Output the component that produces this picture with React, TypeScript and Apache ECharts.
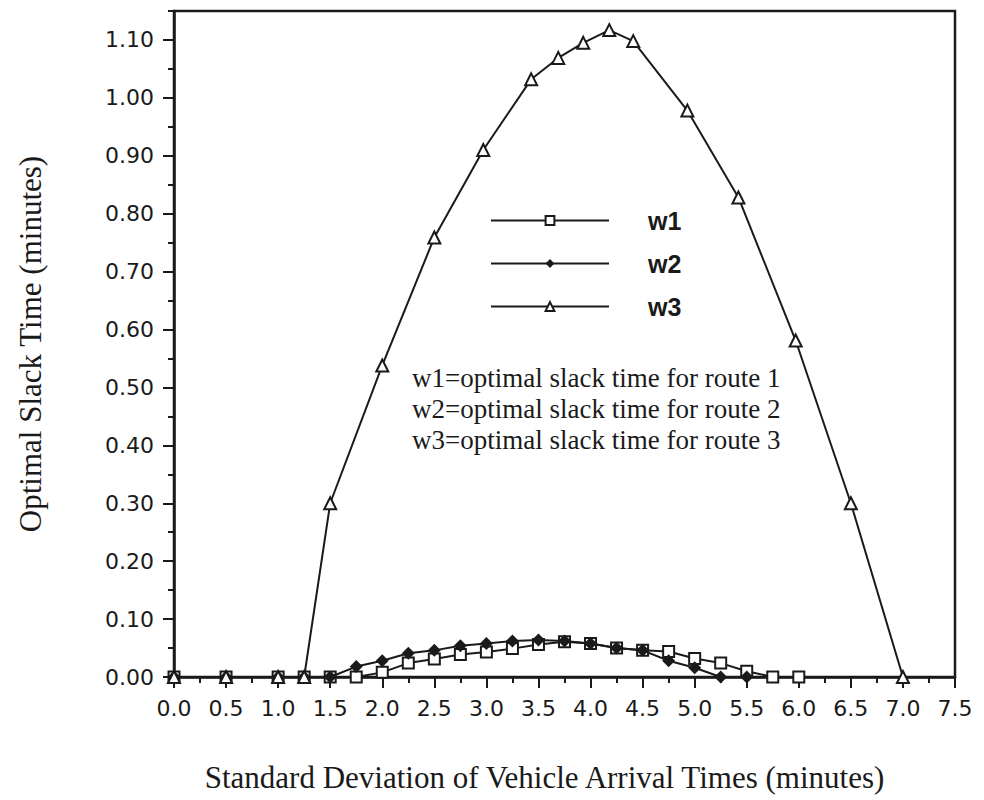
import React, { useEffect, useRef } from "react";
import * as echarts from "echarts";

// Standard deviation of vehicle arrival times (minutes) and optimal slack time (minutes)
const w1X = [0, 0.5, 1.0, 1.25, 1.5, 1.75, 2.0, 2.25, 2.5, 2.75, 3.0, 3.25, 3.5, 3.75, 4.0, 4.25, 4.5, 4.75, 5.0, 5.25, 5.5, 5.75, 6.0];
const w1Values = [0, 0, 0, 0, 0, 0, 0.008, 0.024, 0.031, 0.039, 0.043, 0.049, 0.056, 0.061, 0.058, 0.05, 0.046, 0.044, 0.032, 0.024, 0.01, 0, 0];

const w2X = [0, 0.5, 1.0, 1.25, 1.5, 1.75, 2.0, 2.25, 2.5, 2.75, 3.0, 3.25, 3.5, 3.75, 4.0, 4.25, 4.5, 4.75, 5.0, 5.25, 5.5];
const w2Values = [0, 0, 0, 0, 0, 0.018, 0.028, 0.041, 0.046, 0.054, 0.058, 0.062, 0.064, 0.062, 0.058, 0.05, 0.046, 0.028, 0.016, 0, 0];

const w3X = [0, 0.5, 1.0, 1.25, 1.5, 2.0, 2.5, 2.97, 3.43, 3.69, 3.93, 4.18, 4.41, 4.93, 5.42, 5.97, 6.5, 7.0];
const w3Values = [0, 0, 0, 0, 0.3, 0.538, 0.759, 0.91, 1.032, 1.069, 1.095, 1.117, 1.098, 0.978, 0.828, 0.581, 0.3, 0];

const seriesNames = ["w1", "w2", "w3"];
const noteLines = [
  "w1=optimal slack time for route 1",
  "w2=optimal slack time for route 2",
  "w3=optimal slack time for route 3",
];
const xTitle = "Standard Deviation of Vehicle Arrival Times (minutes)";
const yTitle = "Optimal Slack Time (minutes)";

const INK = "#1a1a1a";

function pairs(xs: number[], ys: number[]) {
  return xs.map((x, i) => [x, ys[i]]);
}

export default function App() {
  const ref = useRef<HTMLDivElement>(null);

  useEffect(() => {
    if (!ref.current) return;
    const chart = echarts.init(ref.current, undefined, { renderer: "svg" });
    const tickFont = "DejaVu Sans";
    const option: any = {
      animation: false,
      backgroundColor: "#ffffff",
      grid: {
        left: 174,
        right: 29,
        top: 11,
        bottom: 123,
        show: true,
        borderColor: INK,
        borderWidth: 2.5,
        backgroundColor: "transparent",
      },
      legend: {
        data: seriesNames,
        orient: "vertical",
        left: 490,
        top: 208,
        padding: 0,
        itemWidth: 118,
        itemHeight: 11,
        itemGap: 18,
        textStyle: {
          fontFamily: "Liberation Sans",
          fontWeight: "bold",
          fontSize: 25,
          color: INK,
          padding: [0, 0, 0, 34],
        },
        selectedMode: false,
      },
      xAxis: {
        type: "value",
        min: 0,
        max: 7.5,
        interval: 0.5,
        name: xTitle,
        nameLocation: "middle",
        nameGap: 85,
        nameTextStyle: { fontFamily: "Liberation Serif", fontSize: 31, color: INK, padding: [0, 40, 0, 0] },
        axisLine: { show: true, onZero: false, lineStyle: { color: INK, width: 2.5 } },
        axisTick: { show: true, inside: false, length: 11, lineStyle: { color: INK, width: 2 } },
        minorTick: { show: true, splitNumber: 2, length: 6, lineStyle: { color: INK, width: 2 } },
        axisLabel: {
          margin: 20,
          fontFamily: tickFont,
          fontSize: 22,
          color: INK,
          formatter: (v: number) => v.toFixed(1),
        },
        splitLine: { show: false },
        minorSplitLine: { show: false },
      },
      yAxis: [
        {
          type: "value",
          min: 0,
          max: 1.15,
          interval: 0.1,
          name: yTitle,
          nameLocation: "middle",
          nameGap: 128,
          nameTextStyle: { fontFamily: "Liberation Serif", fontSize: 31, color: INK },
          axisLine: { show: true, onZero: false, lineStyle: { color: INK, width: 2.5 } },
          axisTick: { show: true, inside: false, length: 11, lineStyle: { color: INK, width: 2 } },
          axisLabel: {
            margin: 20,
            fontFamily: tickFont,
            fontSize: 22,
            color: INK,
            showMaxLabel: false,
            formatter: (v: number) => v.toFixed(2),
          },
          splitLine: { show: false },
        },
        {
          type: "value",
          position: "left",
          min: 0,
          max: 1.15,
          interval: 0.05,
          axisLine: { show: false },
          axisTick: { show: true, inside: false, length: 6, lineStyle: { color: INK, width: 2 } },
          axisLabel: { show: false },
          splitLine: { show: false },
        },
      ],
      graphic: noteLines.map((t, i) => ({
        type: "text",
        x: 412,
        y: 378 + i * 31,
        style: {
          text: t,
          fill: INK,
          font: '27px "Liberation Serif"',
          verticalAlign: "middle",
        },
      })),
      series: [
        {
          name: seriesNames[0],
          type: "line",
          data: pairs(w1X, w1Values),
          symbol: "emptyRect",
          symbolSize: 11,
          itemStyle: { color: INK, borderWidth: 2.5 },
          lineStyle: { color: INK, width: 2 },
          z: 2,
        },
        {
          name: seriesNames[1],
          type: "line",
          data: pairs(w2X, w2Values),
          symbol: "diamond",
          symbolSize: 13,
          itemStyle: { color: INK },
          lineStyle: { color: INK, width: 2 },
          z: 3,
        },
        {
          name: seriesNames[2],
          type: "line",
          data: pairs(w3X, w3Values),
          symbol: "emptyTriangle",
          symbolSize: 12,
          itemStyle: { color: INK, borderWidth: 2.2 },
          lineStyle: { color: INK, width: 2 },
          z: 4,
        },
      ],
    };
    chart.setOption(option);
    return () => chart.dispose();
  }, []);

  return (
    <div
      ref={ref}
      style={{ position: "absolute", left: 0, top: 0, width: 984, height: 800, background: "#fff" }}
    />
  );
}
